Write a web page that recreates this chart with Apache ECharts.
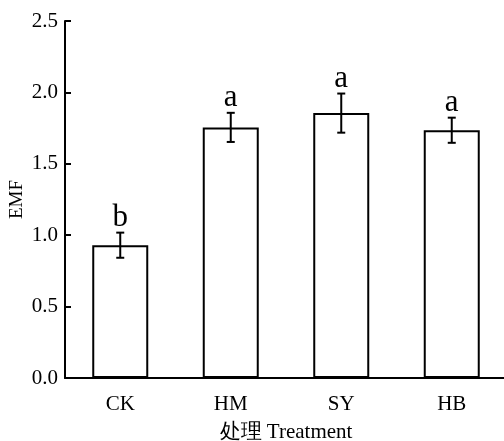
<!DOCTYPE html>
<html><head><meta charset="utf-8">
<script src="https://cdn.jsdelivr.net/npm/echarts@6/dist/echarts.min.js"></script>
<style>html,body{margin:0;padding:0;background:#fff}#c{width:504px;height:441px}</style>
</head><body><div id="c"></div>
<script>
const categories = ['CK', 'HM', 'SY', 'HB'];
const means = [0.93, 1.755, 1.855, 1.735];
const errors = [0.088, 0.102, 0.137, 0.088];
const letters = ['b', 'a', 'a', 'a'];
const yTicks = [0, 0.5, 1.0, 1.5, 2.0, 2.5];

const font = '"Liberation Serif", "Times New Roman", serif';
const chart = echarts.init(document.getElementById('c'));
const errData = categories.map((c, i) => [i, means[i], errors[i], letters[i]]);
chart.setOption({
  animation: false,
  grid: { left: 65, top: 21, width: 442, height: 357, containLabel: false, outerBoundsMode: 'none' },
  xAxis: {
    type: 'category', data: categories,
    axisLine: { lineStyle: { color: '#000', width: 2 } },
    axisTick: { show: false },
    axisLabel: { color: '#000', fontFamily: font, fontSize: 21, margin: 16 },
    name: '处理 Treatment', nameLocation: 'middle', nameGap: 44, nameMoveOverlap: false,
    nameTextStyle: { color: '#000', fontFamily: font, fontSize: 21 }
  },
  yAxis: {
    type: 'value', min: 0, max: 2.5, interval: 0.5,
    axisLine: { show: true, lineStyle: { color: '#000', width: 2 } },
    axisTick: { show: true, inside: true, length: 6, lineStyle: { color: '#000', width: 2 } },
    splitLine: { show: false },
    axisLabel: { color: '#000', fontFamily: font, fontSize: 21, margin: 7,
      formatter: v => yTicks.includes(v) ? v.toFixed(1) : '' },
    name: 'EMF', nameLocation: 'middle', nameGap: 38, nameMoveOverlap: false,
    nameTextStyle: { color: '#000', fontFamily: font, fontSize: 19 }
  },
  series: [{
    type: 'bar', data: means, barWidth: 56,
    itemStyle: { color: '#fff', borderColor: '#000', borderWidth: 2 }
  }, {
    type: 'custom', data: errData, z: 10,
    renderItem: (params, api) => {
      const x = api.value(0), m = api.value(1), e = api.value(2);
      const hi = api.coord([x, m + e]);
      const lo = api.coord([x, m - e]);
      const cap = 4;
      const st = { stroke: '#000', lineWidth: 2 };
      return { type: 'group', children: [
        { type: 'line', shape: { x1: hi[0], y1: hi[1], x2: lo[0], y2: lo[1] }, style: st },
        { type: 'line', shape: { x1: hi[0] - cap, y1: hi[1], x2: hi[0] + cap, y2: hi[1] }, style: st },
        { type: 'line', shape: { x1: lo[0] - cap, y1: lo[1], x2: lo[0] + cap, y2: lo[1] }, style: st },
        { type: 'text', x: hi[0], y: hi[1] + 1, style: { text: api.value(3), fill: '#000',
          font: '31px ' + font, align: 'center', verticalAlign: 'bottom' } }
      ]};
    }
  }]
});
</script></body></html>
